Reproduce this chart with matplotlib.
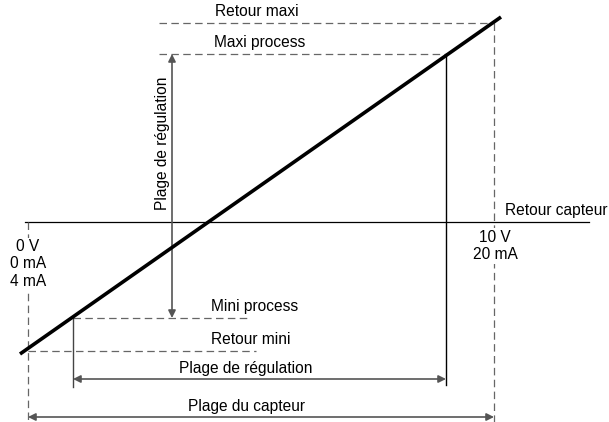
import matplotlib.pyplot as plt

plt.rcParams['font.family'] = ['Liberation Sans', 'DejaVu Sans']

# drawing coordinates (pixel units, y downward)
axis_y = 222
axis_x = [25, 589]
x_zero = 28        # 0 V / 4 mA
x_full = 494       # 10 V / 20 mA
x_min_proc = 73
x_max_proc = 446
y_ret_max = 23
y_max_proc = 54
y_min_proc = 318
y_ret_min = 351
x_reg_arrow = 172

line_x = [20, 501]
line_y = [354, 17]

dash_col = '#666666'
arr_col = '#555555'

fig = plt.figure(figsize=(6.09, 4.22), dpi=100)
ax = fig.add_axes([0, 0, 1, 1])
ax.set_xlim(0, 609)
ax.set_ylim(422, 0)
ax.axis('off')

dash = dict(color=dash_col, lw=0.9, ls=(0, (6, 3.5)))

# horizontal axis
ax.plot(axis_x, [axis_y, axis_y], color='black', lw=0.9)

# dashed reference lines
ax.plot([x_zero, x_zero], [axis_y, 422], **dash)
ax.plot([x_full, x_full], [y_ret_max, 422], **dash)
ax.plot([159, x_full], [y_ret_max, y_ret_max], **dash)
ax.plot([159, x_max_proc], [y_max_proc, y_max_proc], **dash)
ax.plot([x_min_proc, 251], [y_min_proc, y_min_proc], **dash)
ax.plot([x_zero, 256], [y_ret_min, y_ret_min], **dash)

# solid verticals
ax.plot([x_min_proc, x_min_proc], [y_min_proc, 387], color='#444444', lw=1.0)
ax.plot([x_max_proc, x_max_proc], [y_max_proc, 385], color='black', lw=1.0)

# characteristic line
ax.plot(line_x, line_y, color='black', lw=2.6, solid_capstyle='butt', zorder=5)

arrow = dict(arrowstyle='<|-|>', color=arr_col, lw=1.2, mutation_scale=11,
             shrinkA=0, shrinkB=0)
ax.annotate('', xy=(x_reg_arrow, y_max_proc), xytext=(x_reg_arrow, y_min_proc),
            arrowprops=arrow)
ax.annotate('', xy=(x_min_proc, 379), xytext=(x_max_proc, 379), arrowprops=arrow)
ax.annotate('', xy=(x_zero, 417), xytext=(x_full, 417), arrowprops=arrow)

fs = 11.2
wb = dict(facecolor='white', edgecolor='none', pad=1)
ax.text(257, 11, 'Retour maxi', fontsize=fs, ha='center', va='center')
ax.text(260, 43, 'Maxi process', fontsize=fs, ha='center', va='center')
ax.text(255, 307, 'Mini process', fontsize=fs, ha='center', va='center')
ax.text(251, 340, 'Retour mini', fontsize=fs, ha='center', va='center')
ax.text(246, 368, 'Plage de régulation', fontsize=fs, ha='center', va='center')
ax.text(246, 406, 'Plage du capteur', fontsize=fs, ha='center', va='center')
ax.text(163, 143, 'Plage de régulation', fontsize=fs, ha='center', va='center',
        rotation=90)
ax.text(556, 210, 'Retour capteur', fontsize=fs, ha='center', va='center')
ax.text(495, 246, '10 V\n20 mA', fontsize=fs, ha='center', va='center',
        linespacing=1.2, bbox=wb, zorder=4)
ax.text(28, 264, '0 V\n0 mA\n4 mA', fontsize=fs, ha='center', va='center',
        linespacing=1.2, bbox=wb, zorder=4)

fig.savefig('out.png', dpi=100)
